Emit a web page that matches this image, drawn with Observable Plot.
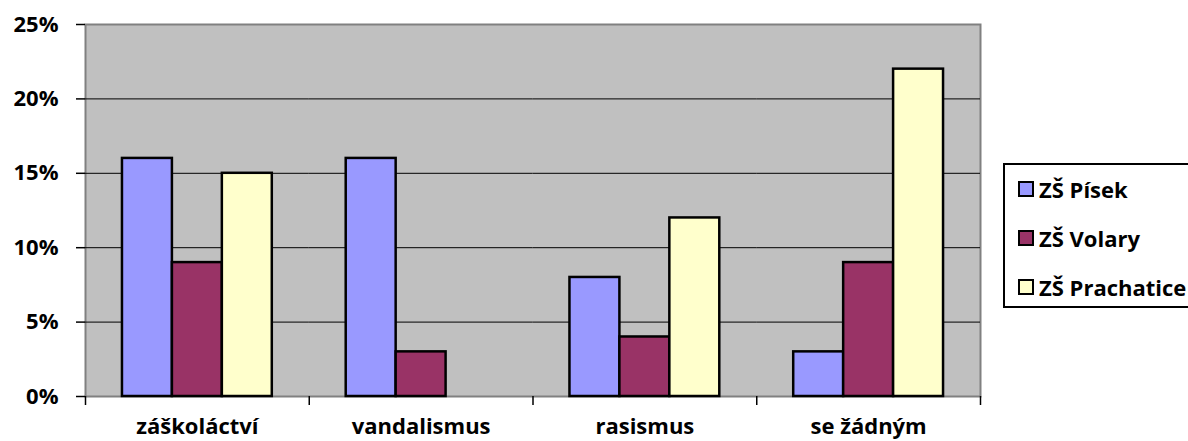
<!DOCTYPE html>
<html><head><meta charset="utf-8">
<script src="https://cdn.jsdelivr.net/npm/d3@7"></script>
<script src="https://cdn.jsdelivr.net/npm/@observablehq/plot@0.6"></script>
<style>
html,body{margin:0;padding:0;background:#fff;}
#wrap{position:relative;width:1188px;height:441px;overflow:hidden;font-family:"Open Sans",sans-serif;font-weight:bold;}
#chart{position:absolute;left:0;top:0;}
#legend{position:absolute;left:1003px;top:163px;width:200px;height:145px;border:2px solid #000;box-sizing:border-box;background:#fff;}
.item{position:absolute;left:13px;display:flex;align-items:center;font-size:22px;line-height:1;white-space:nowrap;}
.sw{width:12px;height:12px;border:2px solid #000;margin-right:5px;}
</style></head>
<body><div id="wrap"><div id="chart"></div><div id="legend"></div></div>
<script>
const categories = ["záškoláctví", "vandalismus", "rasismus", "se žádným"];
const series = ["ZŠ Písek", "ZŠ Volary", "ZŠ Prachatice"];
const colors = ["#9999FF", "#993366", "#FFFFCC"];
const pisek = [16, 16, 8, 3];
const volary = [9, 3, 4, 9];
const prachatice = [15, null, 12, 22];
const yTicks = [0, 5, 10, 15, 20, 25];
const gridTicks = [5, 10, 15, 20];

const seriesValues = [pisek, volary, prachatice];
const data = [];
categories.forEach((c, i) => series.forEach((s, j) => {
  const v = seriesValues[j][i];
  if (v != null) data.push({category: c, series: s, value: v});
}));

const W = 990, mL = 85, mR = 10;
const step = (W - mL - mR) / categories.length;

const chart = Plot.plot({
  width: W, height: 441,
  marginLeft: mL, marginRight: mR, marginTop: 24, marginBottom: 45,
  style: {fontFamily: "'Open Sans', sans-serif", fontSize: "22px", fontWeight: "bold", color: "#000", background: "transparent", overflow: "visible"},
  fx: {domain: categories, padding: 0, round: false, label: null, axis: null},
  x: {domain: series, paddingInner: 0, paddingOuter: 0.74, round: false, axis: null},
  y: {domain: [0, 25], label: null, axis: null},
  color: {domain: series, range: colors},
  marks: [
    Plot.frame({facet: "super", fill: "#C0C0C0", stroke: "#808080", strokeWidth: 2}),
    Plot.ruleY(gridTicks, {stroke: "#000", strokeWidth: 1}),
    Plot.barY(data, {fx: "category", x: "series", y: "value", fill: "series", stroke: "#000", strokeWidth: 2.5}),
    Plot.axisY({ticks: yTicks, tickSize: 9, tickPadding: 18, tickFormat: d => d + "%", stroke: "#000", strokeWidth: 1.5, label: null}),
    Plot.axisFx({anchor: "bottom", tickSize: 9, tickFormat: () => "", dx: -step / 2, strokeWidth: 1.5, label: null}),
    Plot.axisFx({anchor: "bottom", ticks: [categories[categories.length - 1]], tickSize: 9, tickFormat: () => "", dx: step / 2, strokeWidth: 1.5, label: null}),
    Plot.axisFx({anchor: "bottom", tickSize: 0, tickPadding: 22, label: null})
  ]
});
document.getElementById("chart").appendChild(chart);

const legend = document.getElementById("legend");
series.forEach((s, j) => {
  const it = document.createElement("div");
  it.className = "item";
  it.style.top = (13 + j * 49) + "px";
  const sw = document.createElement("div");
  sw.className = "sw";
  sw.style.background = colors[j];
  it.appendChild(sw);
  const t = document.createElement("span");
  t.textContent = s;
  it.appendChild(t);
  legend.appendChild(it);
});
</script></body></html>
